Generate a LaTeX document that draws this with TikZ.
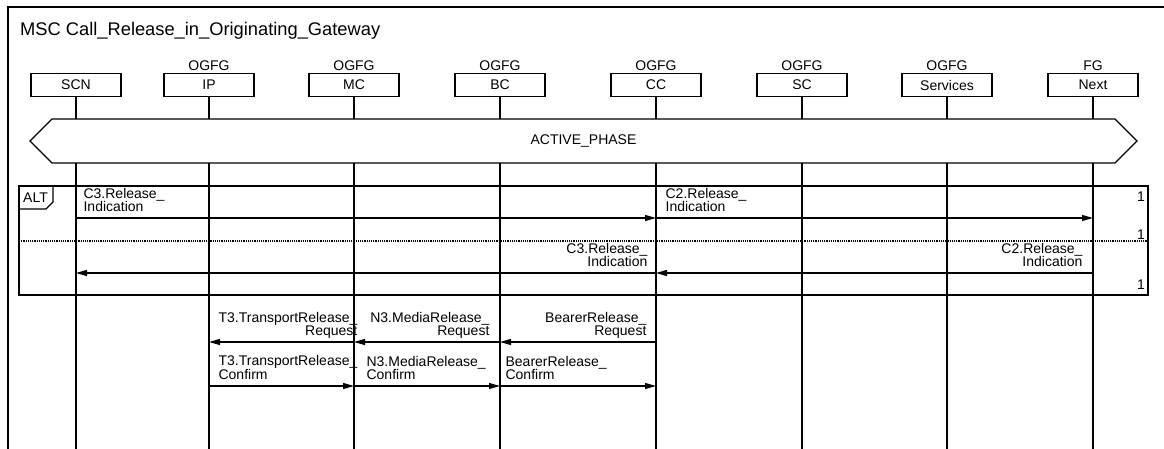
\documentclass[tikz,border=0pt]{standalone}
\usepackage{fontspec}
\setmainfont{Liberation Sans}
\usepackage{tikz}
\usetikzlibrary{arrows.meta, calc}
\newcommand{\msgfont}{\fontsize{14}{13}\selectfont}
\newcommand{\ttlfont}{\fontsize{18.3}{21}\selectfont}
\tikzset{
  inst/.style={draw, line width=1.2pt, minimum width=90pt, minimum height=23pt,
    inner sep=0pt, font=\msgfont, fill=white},
  hdr/.style={font=\msgfont, inner sep=2pt, text depth=0pt},
  life/.style={line width=1.6pt},
  msg/.style={line width=1.2pt, -{Triangle[length=11pt,width=6pt]}},
  lbl/.style={font=\msgfont, inner sep=0pt, text depth=0pt, yshift=6pt},
  cnt/.style={font=\msgfont, inner sep=0pt, anchor=east},
}

\begin{document}
\begin{tikzpicture}[x=1pt, y=-1pt]
\useasboundingbox (0,0) rectangle (1164,449);
% ======== frame and title ========
\draw[line width=1.8pt] (1164,7) -- (8,7) -- (8,449);
\node[font=\ttlfont, anchor=base west, inner sep=0pt] (title) at (20,35.5)
  {MSC Call\_Release\_in\_Originating\_Gateway};
% ======== instances ========
\node[inst] (scn)  at (76,85)   {SCN};
\node[inst, label={[hdr]above:OGFG}] (ip)   at (209,85)  {IP};
\node[inst, label={[hdr]above:OGFG}] (mc)   at (354,85)  {MC};
\node[inst, label={[hdr]above:OGFG}] (bc)   at (500,85)  {BC};
\node[inst, label={[hdr]above:OGFG}] (cc)   at (656,85)  {CC};
\node[inst, label={[hdr]above:OGFG}] (sc)   at (802,85)  {SC};
\node[inst, label={[hdr]above:OGFG}] (serv) at (947,85)  {Services};
\node[inst, label={[hdr]above:FG}]   (next) at (1093,85) {Next};
% lifelines run off the bottom
\coordinate (bot) at (0,449);
\foreach \n in {scn,ip,mc,bc,cc,sc,serv,next}
  \draw[life] (\n.south) -- (\n |- bot);
% ======== condition ACTIVE_PHASE ========
\draw[line width=1.2pt, fill=white] (30,141) -- (52,119) -- (1115,119) -- (1137,141)
  -- (1115,163) -- (52,163) -- cycle;
\node[font=\msgfont, inner sep=0pt] (phase) at (583.5,141) {ACTIVE\_PHASE};
% ======== ALT box ========
\draw[line width=1.2pt] (19,186) rectangle (1148,295);
\draw[line width=1.2pt] (19,209) -- (46,209) -- (53,202) -- (53,186);
\node[font=\msgfont, inner sep=0pt] (alt) at (35.5,197.5) {ALT};
\draw[line width=1.3pt, dash pattern=on 1.1pt off 1.1pt] (19,241) -- (1148,241);
\node[cnt] (one1) at (1145,197) {1};
\node[cnt] (one2) at (1145,235) {1};
\node[cnt] (one3) at (1145,285) {1};
% message rows
\coordinate (r1) at (0,218);
\coordinate (r2) at (0,273);
\coordinate (r3) at (0,342);
\coordinate (r4) at (0,386);
% ======== messages ========
\draw[msg] (scn |- r1) -- (cc |- r1)
  node[lbl, at start, anchor=south west, xshift=7pt, align=left] {C3.Release\_\\Indication};
\draw[msg] (cc |- r1) -- (next |- r1)
  node[lbl, at start, anchor=south west, xshift=9pt, align=left] {C2.Release\_\\Indication};
\draw[msg] (next |- r2) -- (cc |- r2)
  node[lbl, at start, anchor=south east, xshift=-10pt, align=right] {C2.Release\_\\Indication};
\draw[msg] (cc |- r2) -- (scn |- r2)
  node[lbl, at start, anchor=south east, xshift=-8pt, align=right] {C3.Release\_\\Indication};
\draw[msg] (mc |- r3) -- (ip |- r3)
  node[lbl, at end, anchor=south west, xshift=9pt, align=right] {T3.TransportRelease\_\\Request};
\draw[msg] (bc |- r3) -- (mc |- r3)
  node[lbl, at start, anchor=south east, xshift=-10pt, align=right] {N3.MediaRelease\_\\Request};
\draw[msg] (cc |- r3) -- (bc |- r3)
  node[lbl, at start, anchor=south east, xshift=-9pt, align=right] {BearerRelease\_\\Request};
\draw[msg] (ip |- r4) -- (mc |- r4)
  node[lbl, at start, anchor=south west, xshift=9pt, align=left] {T3.TransportRelease\_\\Confirm};
\draw[msg] (mc |- r4) -- (bc |- r4)
  node[lbl, at start, anchor=south west, xshift=12pt, align=left] {N3.MediaRelease\_\\Confirm};
\draw[msg] (bc |- r4) -- (cc |- r4)
  node[lbl, at start, anchor=south west, xshift=5pt, align=left] {BearerRelease\_\\Confirm};
\end{tikzpicture}
\end{document}
